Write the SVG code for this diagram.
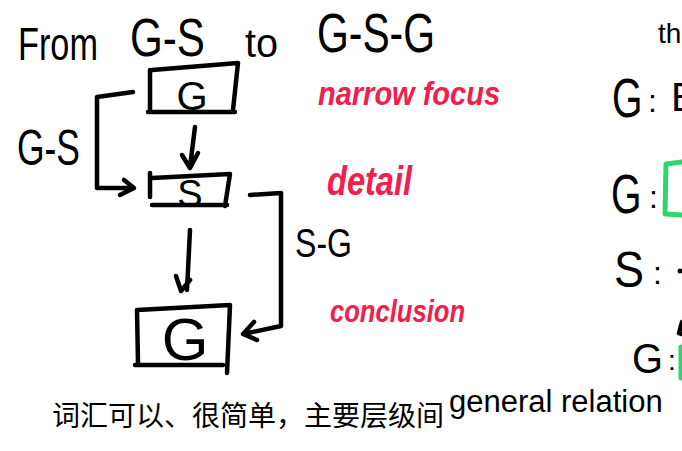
<svg xmlns="http://www.w3.org/2000/svg" width="682" height="451" viewBox="0 0 682 451">
<style>
.ink{fill:none;stroke:#000;stroke-width:4.5;stroke-linecap:round;stroke-linejoin:round}
.grn{fill:none;stroke:#2fd76a;stroke-width:5;stroke-linecap:round;stroke-linejoin:round}
.t{font-family:"Liberation Sans","Noto Sans CJK SC",sans-serif;fill:#000}
.r{font-family:"Liberation Sans",sans-serif;fill:#f0204c;font-style:italic;font-weight:bold}
</style>
<rect width="682" height="451" fill="#fff"/>
<g id="title">
<text class="t" x="18" y="60" font-size="46" textLength="80" lengthAdjust="spacingAndGlyphs">From</text>
<text class="t" x="130" y="56" font-size="54" textLength="75" lengthAdjust="spacingAndGlyphs">G-S</text>
<text class="t" x="245" y="57" font-size="40" textLength="33" lengthAdjust="spacingAndGlyphs">to</text>
<text class="t" x="317" y="52" font-size="56" textLength="118" lengthAdjust="spacingAndGlyphs">G-S-G</text>
<text class="t" x="658" y="43" font-size="28">th</text>
</g>
<g id="node-g1">
<path class="ink" d="M152,70 L238,63 L233,110 M150,70 L150,112 M148,112 L235,112"/>
<text class="t" x="192" y="110" font-size="40" text-anchor="middle">G</text>
</g>
<g id="node-s">
<path class="ink" d="M152,178 L230,174 L225,206 M150,173 L150,197 M152,205 L227,205"/>
<text class="t" x="190" y="207" font-size="38" text-anchor="middle">S</text>
</g>
<g id="node-g2">
<path class="ink" d="M137,310 L230,305 L227,373 M137,310 L138,363 M135,365 L223,365"/>
<text class="t" x="185" y="360" font-size="60" text-anchor="middle">G</text>
</g>
<g id="connectors">
<path class="ink" d="M195,127 L190,167 M182,155 L190,168 L198,153"/>
<path class="ink" d="M133,92 L97,97 L97,188 L133,188 M124,180 L134,188 L120,195"/>
<path class="ink" d="M190,230 L187,290 M176,276 L181,291 L190,280"/>
<path class="ink" d="M250,195 L281,193 L281,326 L243,334 M254,322 L243,334 L257,340"/>
</g>
<g id="labels">
<text class="t" x="17" y="165" font-size="50" textLength="63" lengthAdjust="spacingAndGlyphs">G-S</text>
<text class="t" x="295" y="257" font-size="40" textLength="57" lengthAdjust="spacingAndGlyphs">S-G</text>
<text class="r" x="318" y="105" font-size="34" textLength="182" lengthAdjust="spacingAndGlyphs">narrow focus</text>
<text class="r" x="327" y="195" font-size="40" textLength="85" lengthAdjust="spacingAndGlyphs">detail</text>
<text class="r" x="330" y="322" font-size="32" textLength="135" lengthAdjust="spacingAndGlyphs">conclusion</text>
</g>
<g id="right">
<text class="t" font-size="56" transform="translate(612,117) scale(0.7,1)">G</text>
<text class="t" x="648" y="112" font-size="32">:</text>
<text class="t" x="671" y="111" font-size="40">E</text>
<text class="t" font-size="56" transform="translate(611,213) scale(0.7,1)">G</text>
<text class="t" x="649" y="208" font-size="32">:</text>
<path class="grn" d="M682,162 L666,164 L665,214 L682,215"/>
<text class="t" font-size="50" transform="translate(614,287) scale(0.9,1)">S</text>
<text class="t" x="653" y="284" font-size="32">:</text>
<circle cx="680" cy="271" r="2.5" fill="#000"/>
<path class="ink" d="M682,322 L679,333 L682,334"/>
<text class="t" font-size="42" transform="translate(632,373) scale(0.95,1)">G</text>
<text class="t" x="668" y="370" font-size="28">:</text>
<path class="grn" d="M681,347 L681,378"/>
</g>
<g id="note">
<text class="t" x="52" y="426" font-size="28">词汇可以、很简单，主要层级间</text>
<text class="t" x="449" y="412" font-size="31">general relation</text>
</g>
</svg>
